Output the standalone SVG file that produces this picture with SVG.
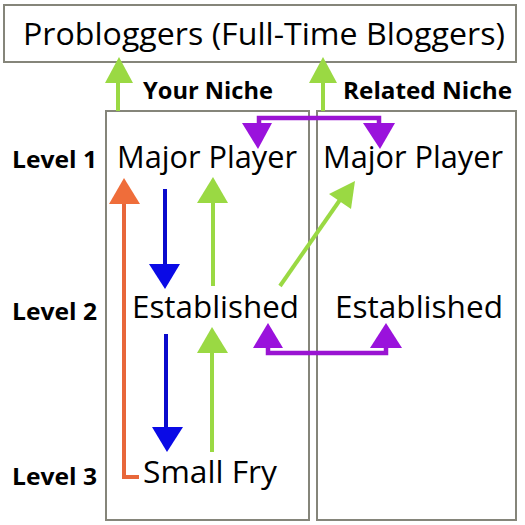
<svg xmlns="http://www.w3.org/2000/svg" width="525" height="525" viewBox="0 0 525 525">
<style>
.box{fill:#fff;stroke:#85857a;stroke-width:2}
.t{font-family:"Open Sans","Noto Sans",sans-serif;font-size:31px;fill:#000}
.b{font-family:"Open Sans","Noto Sans",sans-serif;font-weight:bold;font-size:24px;fill:#000}
.g{stroke:#9ad943;stroke-width:4;fill:none}
.gh{fill:#9ad943}
.bl{stroke:#0a0acc;stroke-width:4;fill:none}
.blh{fill:#0a0ae6}
.o{stroke:#e8673a;stroke-width:4;fill:none}
.oh{fill:#ef6d3a}
.p{stroke:#9a14d2;stroke-width:4.5;fill:none}
.ph{fill:#9a12dc}
</style>
<rect width="525" height="525" fill="#fff"/>
<g id="probloggers">
<rect class="box" x="4" y="5" width="512" height="57"/>
<text class="t" x="23" y="45" textLength="482" lengthAdjust="spacingAndGlyphs">Probloggers (Full-Time Bloggers)</text>
</g>
<g id="your-niche">
<rect class="box" x="106" y="111" width="203" height="409"/>
<text class="b" x="143" y="99" textLength="130" lengthAdjust="spacingAndGlyphs">Your Niche</text>
</g>
<g id="related-niche">
<rect class="box" x="317" y="111" width="199" height="409"/>
<text class="b" x="343" y="99" textLength="169" lengthAdjust="spacingAndGlyphs">Related Niche</text>
</g>
<g id="levels">
<text class="b" x="12" y="168" textLength="85" lengthAdjust="spacingAndGlyphs">Level 1</text>
<text class="b" x="12" y="320" textLength="85" lengthAdjust="spacingAndGlyphs">Level 2</text>
<text class="b" x="12" y="485" textLength="85" lengthAdjust="spacingAndGlyphs">Level 3</text>
</g>
<g id="major-player-1"><text class="t" x="117" y="168" textLength="180" lengthAdjust="spacingAndGlyphs">Major Player</text></g>
<g id="major-player-2"><text class="t" x="323" y="168" textLength="180" lengthAdjust="spacingAndGlyphs">Major Player</text></g>
<g id="established-1"><text class="t" x="132" y="318" textLength="167" lengthAdjust="spacingAndGlyphs">Established</text></g>
<g id="established-2"><text class="t" x="335" y="318" textLength="168" lengthAdjust="spacingAndGlyphs">Established</text></g>
<g id="small-fry"><text class="t" x="143" y="483" textLength="134" lengthAdjust="spacingAndGlyphs">Small Fry</text></g>
<g id="connectors">
<line class="g" x1="118" y1="111" x2="118" y2="80"/>
<polygon class="gh" points="105,83 133,83 119,57"/>
<line class="g" x1="323" y1="111" x2="323" y2="80"/>
<polygon class="gh" points="309,83 337,83 323,57"/>
<polyline class="p" points="259,126 259,118 379,118 379,126"/>
<polygon class="ph" points="242,123 272,123 258,149"/>
<polygon class="ph" points="363,123 395,123 380,149"/>
<polyline class="o" points="139,477 124,477 124,200"/>
<polygon class="oh" points="109,204 140,204 124,178"/>
<line class="bl" x1="165" y1="189" x2="165" y2="266"/>
<polygon class="blh" points="149,264 180,264 165,289"/>
<line class="g" x1="213" y1="286" x2="213" y2="200"/>
<polygon class="gh" points="197,203 228,203 213,177"/>
<line class="g" x1="280" y1="286" x2="342" y2="197"/>
<polygon class="gh" points="355,181 351,209 329,194"/>
<line class="bl" x1="166" y1="334" x2="166" y2="430"/>
<polygon class="blh" points="152,427 183,427 167,452"/>
<line class="g" x1="212" y1="452" x2="212" y2="350"/>
<polygon class="gh" points="197,353 228,353 212,327"/>
<polyline class="p" points="268,345 268,353 386,353 386,345"/>
<polygon class="ph" points="253,348 283,348 268,323"/>
<polygon class="ph" points="370,348 402,348 386,323"/>
</g>
</svg>
